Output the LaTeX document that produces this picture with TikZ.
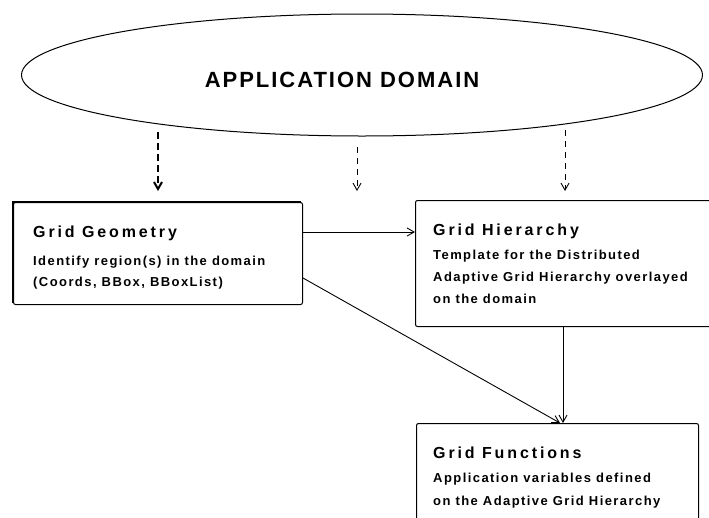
\documentclass[tikz,border=0pt]{standalone}
\usepackage{fontspec}
\setmainfont{Liberation Sans}
\usetikzlibrary{shapes.geometric,arrows.meta}
\newfontfamily\headfont[LetterSpace=18]{Liberation Sans Bold}
\newfontfamily\bodyfont[LetterSpace=11]{Liberation Sans Bold}
\newfontfamily\domainfont[LetterSpace=9]{Liberation Sans Bold}
\begin{document}
\begin{tikzpicture}[x=1pt,y=-1pt,
  box/.style={draw,line width=1pt,rounded corners=2pt,inner sep=0pt},
  head/.style={anchor=base west,inner sep=0pt,font=\headfont\fontsize{16}{18}\selectfont},
  body/.style={anchor=base west,inner sep=0pt,font=\bodyfont\fontsize{13}{15}\selectfont},
  arr/.style={line width=0.9pt,-{Straight Barb[length=7pt,width=8pt]}},
  dasharr/.style={arr,dash pattern=on 6pt off 5pt}]
\useasboundingbox (0,0) rectangle (709,517);

% the application domain
\node[draw,ellipse,line width=1pt,minimum width=681,minimum height=122,inner sep=0pt] (domain) at (362,75) {};
\node[inner sep=0pt,font=\domainfont\fontsize{22}{24}\selectfont] (domaintext) at (342,80) {APPLICATION DOMAIN};

% boxes
\node[box,anchor=north west,minimum width=289,minimum height=102] (geom) at (13,202) {};
\draw[line width=2pt] ([yshift=2pt]geom.south west) -- (geom.north west) -- ([xshift=-2pt]geom.north east);
\node[box,anchor=north west,minimum width=310,minimum height=126] (hier) at (415,200) {};
\node[box,anchor=north west,minimum width=282,minimum height=110] (func) at (416,423) {};

% texts of the boxes
\node[head] (geomtitle) at (33,237) {Grid Geometry};
\node[body] (geomA) at (33,265) {Identify region(s) in the domain};
\node[body] (geomB) at (33,286) {(Coords, BBox, BBoxList)};

\node[head] (hiertitle) at (433,235) {Grid Hierarchy};
\node[body] (hierA) at (433,259) {Template for the Distributed};
\node[body] (hierB) at (433,281) {Adaptive Grid Hierarchy overlayed};
\node[body] (hierC) at (433,303) {on the domain};

\node[head] (functitle) at (433,458) {Grid Functions};
\node[body] (funcA) at (433,482) {Application variables defined};
\node[body] (funcB) at (433,505) {on the Adaptive Grid Hierarchy};

% dashed arrows leaving the domain
\coordinate (s1) at (158,132); \coordinate (e1) at (158,191);
\coordinate (s2) at (357,147); \coordinate (e2) at (357,191);
\coordinate (s3) at (565,130); \coordinate (e3) at (565,191);
\draw[dasharr,line width=2pt,dash pattern=on 7pt off 4pt] (s1) -- (e1);
\draw[dasharr] (s2) -- (e2);
\draw[dasharr] (s3) -- (e3);

% connections between the boxes
\draw[arr] (geom.east |- 0,232) -- (hier.west |- 0,232);
\draw[arr] (hier.south -| 563,0) -- (func.north -| 563,0);
\draw[arr] (geom.east |- 0,278) -- (func.north -| 560,0);
\end{tikzpicture}
\end{document}
